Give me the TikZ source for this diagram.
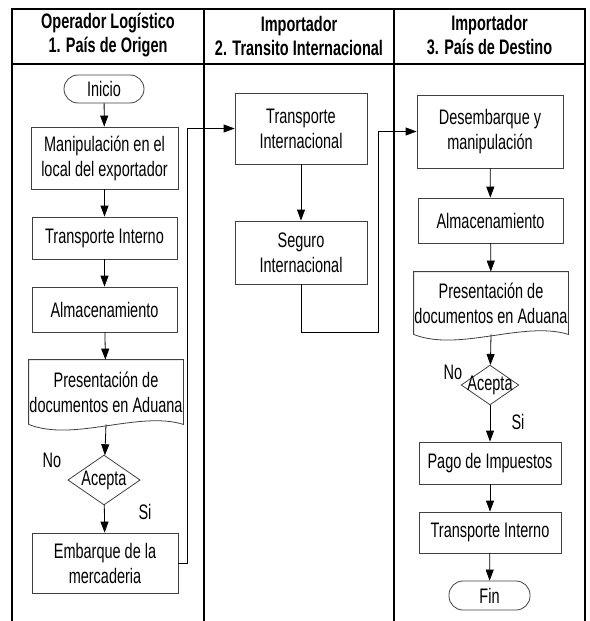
\documentclass[tikz,border=0pt]{standalone}
\usepackage{fontspec}
\setmainfont{Liberation Sans}[FakeStretch=0.69]
\usepackage{tikz}
\usetikzlibrary{positioning, arrows.meta, calc, shapes.geometric}

\begin{document}
\begin{tikzpicture}[x=1pt, y=-1pt,
        every node/.style={font=\fontsize{21}{25}\selectfont},
        lane/.style={line width=1.2pt},
        hdr/.style={align=center, font=\fontsize{21}{24}\selectfont\bfseries},
        outl/.style={draw=black!75, line width=0.8pt},
        proc/.style={outl, align=center, inner sep=0pt},
        term/.style={proc, rounded corners=14pt},
        docu/.style={proc, draw=none},
        dec/.style={proc, diamond, aspect=1.45},
        arr/.style={-{Triangle[length=11pt, width=8pt]}, line width=0.8pt, black}]
      \useasboundingbox (0,0) rectangle (589,621);

      % swimlanes
      \draw[lane] (12,621) -- (12,9) -- (585,9) -- (585,621);
      \draw[lane] (204,9) -- (204,621);
      \draw[lane] (394,9) -- (394,621);
      \draw[lane] (12,64) -- (585,64);
      \node[hdr] (h1) at (108,35.5) {Operador Logístico\\1. País de Origen};
      \node[hdr] (h2) at (299,35.5) {Importador\\2. Transito Internacional};
      \node[hdr] (h3) at (489.5,35.5) {Importador\\3. País de Destino};

      % lane 1
      \node[term, minimum width=80pt, minimum height=28pt] at (104,89) (ini) {Inicio};
      \node[proc, minimum width=147pt, minimum height=62pt] at (104.5,158) (man) {Manipulación en el\\local del exportador};
      \node[proc, minimum width=145pt, minimum height=42pt] at (104.5,238) (tin1) {Transporte Interno};
      \node[proc, minimum width=145pt, minimum height=45pt] at (104.5,309.5) (alm1) {Almacenamiento};
      \node[docu, minimum width=154pt, minimum height=64pt] at (106,392) (doc1) {Presentación de\\documentos en Aduana};
      \node[dec] at (104,480) (dec1) {Acepta};
      \node at (52,460) (no1) {No};
      \node at (145,512) (si1) {Si};
      \node[proc, minimum width=146pt, minimum height=60pt] at (105,563) (emb) {Embarque de la\\mercaderia};

      % lane 2
      \node[proc, minimum width=132pt, minimum height=71pt] at (301,128.5) (tri) {Transporte\\Internacional};
      \node[proc, minimum width=132pt, minimum height=63pt] at (301,252.5) (seg) {Seguro\\Internacional};

      % lane 3
      \node[proc, minimum width=146pt, minimum height=73pt] at (490,131.5) (des) {Desembarque y\\manipulación};
      \node[proc, minimum width=145pt, minimum height=45pt] at (490.5,220.5) (alm3) {Almacenamiento};
      \node[docu, minimum width=154pt, minimum height=62pt] at (491,303) (doc3) {Presentación de\\documentos en Aduana};
      \node[dec, inner sep=-3pt] at (490,385) (dec3) {Acepta};
      \node at (453,372) (no3) {No};
      \node at (518,422) (si3) {Si};
      \node[proc, minimum width=142pt, minimum height=42pt] at (490,463) (pago) {Pago de Impuestos};
      \node[proc, minimum width=142pt, minimum height=41pt] at (490,532.5) (tin3) {Transporte Interno};
      \node[term, minimum width=81pt, minimum height=29pt] at (489.5,595.5) (fin) {Fin};

      % document outlines with wavy bottom
      \foreach \d in {doc1, doc3} {
        \draw[outl] (\d.south west) -- (\d.north west) -- (\d.north east) -- (\d.south east)
          .. controls +(-45,-14) and +(45,18) .. (\d.south west);
      }

      \coordinate (r1) at (187,128);
      \coordinate (r2) at (378,332);

      \draw[arr] (ini) -- (man);
      \draw[arr] (man) -- (tin1);
      \draw[arr] (tin1) -- (alm1);
      \draw[arr] (alm1) -- (doc1);
      \draw[arr] (doc1.south) -- (dec1);
      \draw[arr] (dec1) -- (emb);
      \draw[arr] (emb.east) -- (emb.east -| r1) |- (tri.west);
      \draw[arr] (tri) -- (seg);
      \draw[arr] (seg.south) |- (r2) |- (des.west);
      \draw[arr] (des) -- (alm3);
      \draw[arr] (alm3) -- (doc3);
      \draw[arr] (doc3.south) -- (dec3);
      \draw[arr] (dec3) -- (pago);
      \draw[arr] (pago) -- (tin3);
      \draw[arr] (tin3) -- (fin);
    \end{tikzpicture}
\end{document}
